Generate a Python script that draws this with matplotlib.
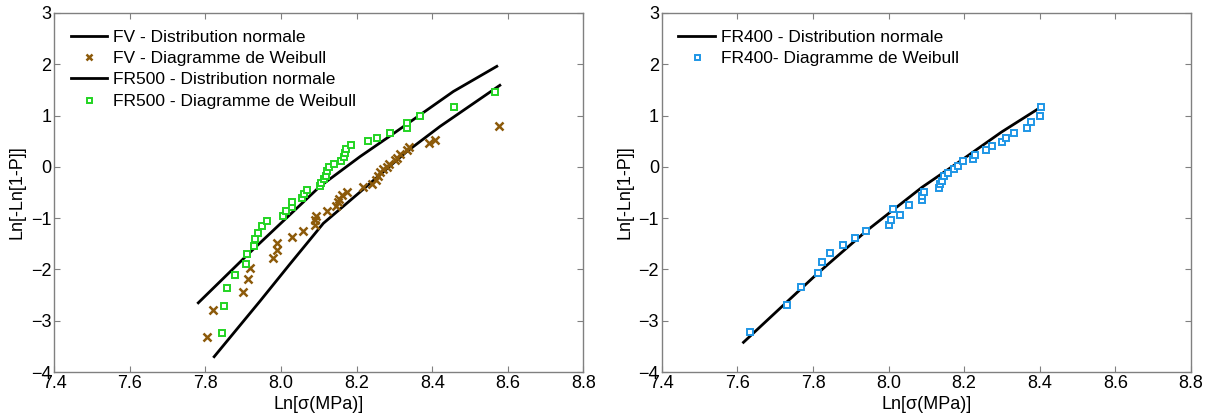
import numpy as np
import matplotlib
matplotlib.use("Agg")
import matplotlib.pyplot as plt

plt.rcParams['font.family'] = ['Liberation Sans', 'DejaVu Sans']

# FV - normal distribution (line) and Weibull points
fv_line_x = [7.823, 7.944, 8.024, 8.112, 8.209, 8.333, 8.421, 8.579]
fv_line_y = [-3.70, -2.62, -1.89, -1.10, -0.49, 0.30, 0.79, 1.59]
fv_x = [7.803, 7.819, 7.898, 7.912, 7.919, 7.980, 7.988, 7.988, 8.030, 8.058,
        8.089, 8.091, 8.093, 8.122, 8.145, 8.150, 8.154, 8.161, 8.174, 8.217,
        8.241, 8.250, 8.256, 8.263, 8.269, 8.280, 8.287, 8.301, 8.307, 8.316,
        8.333, 8.338, 8.391, 8.407, 8.576]
fv_y = [-3.31, -2.79, -2.44, -2.18, -1.97, -1.78, -1.63, -1.49, -1.36, -1.25,
        -1.14, -1.04, -0.96, -0.86, -0.77, -0.68, -0.62, -0.55, -0.48, -0.40,
        -0.34, -0.26, -0.18, -0.10, -0.05, 0.00, 0.05, 0.13, 0.18, 0.26,
        0.32, 0.38, 0.46, 0.53, 0.80]

# FR500
fr500_line_x = [7.781, 7.913, 8.103, 8.209, 8.288, 8.456, 8.571]
fr500_line_y = [-2.65, -1.70, -0.38, 0.20, 0.60, 1.47, 1.96]
fr500_x = [7.843, 7.848, 7.858, 7.878, 7.906, 7.909, 7.928, 7.932, 7.938, 7.949,
           7.964, 8.006, 8.012, 8.030, 8.030, 8.055, 8.062, 8.068, 8.102, 8.106,
           8.114, 8.119, 8.122, 8.127, 8.139, 8.159, 8.166, 8.170, 8.172, 8.184,
           8.230, 8.254, 8.289, 8.333, 8.334, 8.367, 8.458, 8.565]
fr500_y = [-3.23, -2.72, -2.37, -2.10, -1.89, -1.70, -1.54, -1.41, -1.29, -1.16,
           -1.05, -0.96, -0.86, -0.79, -0.69, -0.61, -0.52, -0.45, -0.38, -0.31,
           -0.23, -0.17, -0.09, -0.01, 0.05, 0.11, 0.19, 0.27, 0.35, 0.42,
           0.50, 0.57, 0.66, 0.75, 0.86, 1.00, 1.17, 1.46]

# FR400
fr400_line_x = [7.616, 7.813, 7.941, 8.088, 8.193, 8.299, 8.402]
fr400_line_y = [-3.42, -2.07, -1.25, -0.40, 0.13, 0.68, 1.16]
fr400_x = [7.632, 7.732, 7.767, 7.813, 7.825, 7.845, 7.880, 7.911, 7.941, 8.000,
           8.006, 8.012, 8.029, 8.055, 8.088, 8.089, 8.095, 8.133, 8.137, 8.141,
           8.146, 8.157, 8.172, 8.183, 8.196, 8.223, 8.228, 8.259, 8.274, 8.301,
           8.312, 8.333, 8.367, 8.376, 8.400, 8.404]
fr400_y = [-3.22, -2.69, -2.35, -2.07, -1.86, -1.67, -1.52, -1.38, -1.25, -1.13,
           -1.03, -0.83, -0.93, -0.74, -0.65, -0.57, -0.49, -0.41, -0.33, -0.28,
           -0.18, -0.12, -0.04, 0.02, 0.11, 0.16, 0.24, 0.32, 0.40, 0.48,
           0.57, 0.66, 0.75, 0.87, 0.99, 1.17]

brown = '#8c5a0a'
green = '#22d422'
blue = '#1e96e6'

fig = plt.figure(figsize=(12.1, 4.19), dpi=100)
ax1 = fig.add_axes([0.0449, 0.112, 0.4372, 0.857])
ax2 = fig.add_axes([0.547, 0.112, 0.4372, 0.857])

ax1.plot(fv_line_x, fv_line_y, color='black', lw=2, label='FV - Distribution normale')
ax1.plot(fv_x, fv_y, ls='none', marker='x', ms=5.5, mew=1.8, color=brown,
         label='FV - Diagramme de Weibull')
ax1.plot(fr500_line_x, fr500_line_y, color='black', lw=2, label='FR500 - Distribution normale')
ax1.plot(fr500_x, fr500_y, ls='none', marker='s', ms=4.5, mew=1.4, mfc='white', mec=green,
         label='FR500 - Diagramme de Weibull')

ax2.plot(fr400_line_x, fr400_line_y, color='black', lw=2, label='FR400 - Distribution normale')
ax2.plot(fr400_x, fr400_y, ls='none', marker='s', ms=4.5, mew=1.4, mfc='white', mec=blue,
         label='FR400- Diagramme de Weibull')

for ax in (ax1, ax2):
    ax.set_xlim(7.4, 8.8)
    ax.set_ylim(-4, 3)
    ax.set_xticks([7.4, 7.6, 7.8, 8.0, 8.2, 8.4, 8.6, 8.8])
    ax.set_xticklabels(['7.4', '7.6', '7.8', '8.0', '8.2', '8.4', '8.6', '8.8'])
    ax.set_yticks(range(-4, 4))
    ax.tick_params(direction='in', top=True, right=True, length=4, width=0.8,
                   color='#808080', labelsize=13, pad=2)
    for s in ax.spines.values():
        s.set_color('#808080')
        s.set_linewidth(1.0)
    ax.set_xlabel('Ln[σ(MPa)]', fontsize=13, labelpad=3)
    ax.set_ylabel('Ln[-Ln[1-P]]', fontsize=13, labelpad=4)
    ax.legend(loc='upper left', frameon=False, fontsize=12.5, handlelength=2.1,
              markerscale=0.8, labelspacing=0.36, handletextpad=0.35,
              borderaxespad=0.55)

fig.savefig('out.png', dpi=100)
